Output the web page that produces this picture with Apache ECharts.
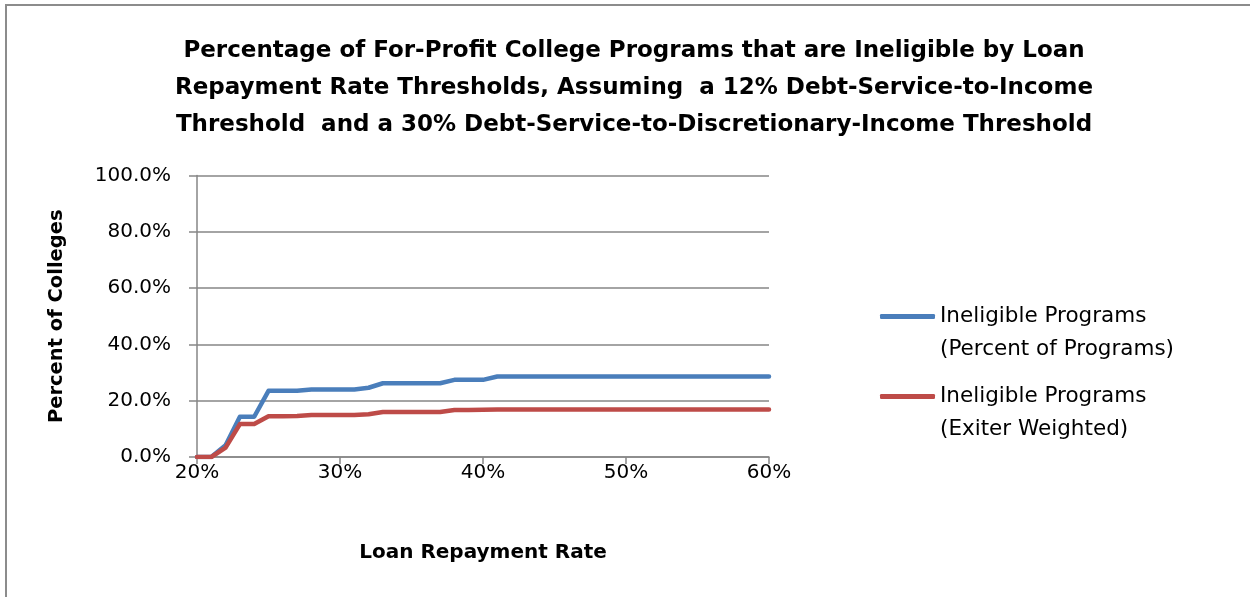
<!DOCTYPE html>
<html>
<head>
<meta charset="utf-8">
<script src="https://cdn.jsdelivr.net/npm/echarts@6/dist/echarts.min.js"></script>
<style>
  html, body { margin: 0; padding: 0; background: #fff; }
  #chart { width: 1250px; height: 597px; }
</style>
</head>
<body>
<div id="chart"></div>
<script>
// Loan repayment rate thresholds (%)
const repaymentRates = [20,21,22,23,24,25,26,27,28,29,30,31,32,33,34,35,36,37,38,39,40,
                        41,42,43,44,45,46,47,48,49,50,51,52,53,54,55,56,57,58,59,60];
// Ineligible programs, percent of programs
const pctPrograms = [0,0,4.2,14.3,14.3,23.5,23.5,23.5,24.0,24.0,24.0,24.0,24.6,26.2,26.2,26.2,26.2,26.2,27.4,27.4,27.4,
                     28.6,28.6,28.6,28.6,28.6,28.6,28.6,28.6,28.6,28.6,28.6,28.6,28.6,28.6,28.6,28.6,28.6,28.6,28.6,28.6];
// Ineligible programs, exiter weighted
const exiterWeighted = [0,0,3.3,11.7,11.7,14.5,14.5,14.6,14.9,14.9,14.9,14.9,15.2,16.0,16.0,16.0,16.0,16.0,16.7,16.7,16.8,
                        16.9,16.9,16.9,16.9,16.9,16.9,16.9,16.9,16.9,16.9,16.9,16.9,16.9,16.9,16.9,16.9,16.9,16.9,16.9,16.9];
const seriesNames = ['Ineligible Programs\n(Percent of Programs)', 'Ineligible Programs\n(Exiter Weighted)'];
const titleText = 'Percentage of For-Profit College Programs that are Ineligible by Loan\n' +
                  'Repayment Rate Thresholds, Assuming  a 12% Debt-Service-to-Income\n' +
                  'Threshold  and a 30% Debt-Service-to-Discretionary-Income Threshold';

const FONT = '"DejaVu Sans", "Noto Sans", sans-serif';
const AXIS_GRAY = '#868686';

const pairs = (ys) => repaymentRates.map((x, i) => [x, ys[i]]);

const chart = echarts.init(document.getElementById('chart'), null, { renderer: 'canvas' });
chart.setOption({
  animation: false,
  backgroundColor: '#fff',
  graphic: [{
    type: 'rect',
    shape: { x: 6, y: 5, width: 1300, height: 700 },
    style: { fill: 'none', stroke: '#8c8c8c', lineWidth: 2 },
    silent: true
  }],
  title: {
    text: titleText,
    left: 629,
    top: 28,
    textAlign: 'center',
    textStyle: { fontFamily: FONT, fontSize: 23, fontWeight: 'bold', color: '#000', lineHeight: 37 }
  },
  grid: { left: 197, right: 481, top: 175.5, bottom: 140, containLabel: false },
  legend: {
    orient: 'vertical',
    left: 880,
    top: 267,
    padding: 0,
    icon: 'roundRect',
    itemWidth: 55,
    itemHeight: 5,
    itemGap: -19,
    formatter: (name) => '\n' + name,
    textStyle: { fontFamily: FONT, fontSize: 21.5, color: '#000', lineHeight: 33 },
    data: seriesNames
  },
  xAxis: {
    type: 'value',
    min: 20, max: 60, interval: 10,
    name: 'Loan Repayment Rate',
    nameLocation: 'middle',
    nameGap: 86,
    nameTextStyle: { fontFamily: FONT, fontSize: 20, fontWeight: 'bold', color: '#000' },
    axisLine: { show: true, onZero: false, lineStyle: { color: AXIS_GRAY, width: 1.5 } },
    axisTick: { show: true, length: 7, lineStyle: { color: AXIS_GRAY, width: 1.5 } },
    axisLabel: { formatter: '{value}%', fontFamily: FONT, fontSize: 20, color: '#000', margin: 6 },
    splitLine: { show: false }
  },
  yAxis: {
    type: 'value',
    min: 0, max: 100, interval: 20,
    name: 'Percent of Colleges',
    nameLocation: 'middle',
    nameRotate: 90,
    nameGap: 130,
    nameTextStyle: { fontFamily: FONT, fontSize: 19.5, fontWeight: 'bold', color: '#000' },
    axisLine: { show: true, lineStyle: { color: AXIS_GRAY, width: 1.5 } },
    axisTick: { show: true, length: 8, lineStyle: { color: AXIS_GRAY, width: 1.5 } },
    axisLabel: { formatter: (v) => v.toFixed(1) + '%', fontFamily: FONT, fontSize: 20, color: '#000', margin: 26 },
    splitLine: { show: true, lineStyle: { color: AXIS_GRAY, width: 1.5 } }
  },
  series: [
    {
      name: seriesNames[0],
      type: 'line',
      data: pairs(pctPrograms),
      symbol: 'none',
      color: '#4A7EBB',
      lineStyle: { width: 4.5, color: '#4A7EBB', cap: 'round', join: 'round' }
    },
    {
      name: seriesNames[1],
      type: 'line',
      data: pairs(exiterWeighted),
      symbol: 'none',
      color: '#BE4B48',
      lineStyle: { width: 4.5, color: '#BE4B48', cap: 'round', join: 'round' }
    }
  ]
});
</script>
</body>
</html>
